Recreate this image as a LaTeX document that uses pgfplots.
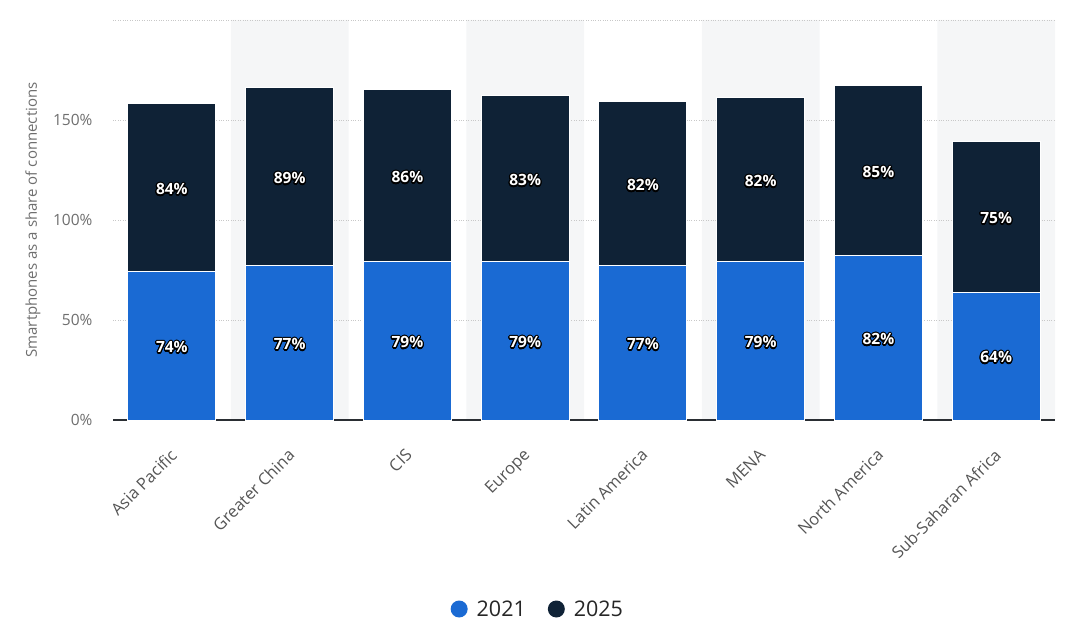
\documentclass[border=0pt]{standalone}
\usepackage{fontspec}
\setmainfont{Open Sans}
\usepackage{pgfplots}
\usepackage{pgfplotstable}
\pgfplotsset{compat=1.18}
\usepackage{contour}
\contourlength{1.1pt}
\contournumber{20}
\definecolor{blueA}{HTML}{1A6AD3}
\definecolor{darkB}{HTML}{0F2236}
\definecolor{bandgray}{HTML}{F5F6F7}
\definecolor{gridgray}{HTML}{C8C8C8}
\definecolor{ticklab}{HTML}{6E6E6E}
\definecolor{xlab}{HTML}{555555}
\definecolor{axisdark}{HTML}{2A2E33}
\pgfplotstableread{
x v
0 74
1 77
2 79
3 79
4 77
5 79
6 82
7 64
}\dataA
\pgfplotstableread{
x v
0 84
1 89
2 86
3 83
4 82
5 82
6 85
7 75
}\dataB
% label positions: middle of each segment
\pgfplotstableread{
x ym lab
0 36 74
1 37.5 77
2 38.5 79
3 38.5 79
4 37.5 77
5 38.5 79
6 40 82
7 31 64
0 115 84
1 120.5 89
2 121 86
3 119.5 83
4 117 82
5 119 82
6 123.5 85
7 100.5 75
}\labels
\begin{document}
\begin{tikzpicture}
\useasboundingbox (0,0) rectangle (1070pt,640pt);
\begin{axis}[
  at={(113pt,220pt)}, anchor=south west,
  scale only axis, width=942pt, height=400pt,
  xmin=-0.5, xmax=7.5, ymin=0, ymax=200,
  axis lines=none,
  ybar, bar width=117.75pt, bar shift=0pt,
]
\addplot[fill=bandgray, draw=none] coordinates {(1,200) (3,200) (5,200) (7,200)};
\end{axis}
\begin{axis}[
  at={(113pt,220pt)}, anchor=south west,
  scale only axis, width=942pt, height=400pt,
  xmin=-0.5, xmax=7.5, ymin=0, ymax=200,
  ybar stacked, bar width=88pt,
  axis x line*=bottom, axis y line*=left,
  x axis line style={draw=axisdark, line width=1.3pt, -},
  y axis line style={draw=none},
  major tick length=0pt,
  ytick={0,50,100,150,200}, yticklabels={0\%,50\%,100\%,150\%,},
  yticklabel style={font=\fontsize{15.5}{17}\selectfont, text=ticklab, xshift=-17pt},
  xtick={0,1,2,3,4,5,6,7},
  xticklabels={Asia Pacific,Greater China,CIS,Europe,Latin America,MENA,North America,Sub-Saharan Africa},
  xticklabel style={font=\fontsize{16.5}{18}\selectfont, text=xlab, rotate=45, anchor=north east, yshift=-14pt, xshift=-18pt},
  ymajorgrids, grid style={dotted, gridgray, line width=0.7pt},
  ylabel={Smartphones as a share of connections},
  ylabel style={at={(axis description cs:-0.085,0.5)}, anchor=center, font=\fontsize{15}{17}\selectfont, text=ticklab},
  legend style={at={(0.451,-0.4725)}, anchor=center, draw=none, fill=none, legend columns=2, font=\fontsize{21.5}{23}\selectfont\color{black!85}, /tikz/every even column/.append style={column sep=20pt}},
  legend image code/.code={\fill[#1,draw=none] (0pt,0pt) circle (8.5pt); \path (15pt,0pt);},
]
\addplot[fill=blueA, draw=white, line width=1pt] table[x=x,y=v] {\dataA};
\addlegendentry{2021}
\addplot[fill=darkB, draw=white, line width=1pt] table[x=x,y=v] {\dataB};
\addlegendentry{2025}
\end{axis}
\begin{axis}[
  at={(113pt,220pt)}, anchor=south west,
  scale only axis, width=942pt, height=400pt,
  xmin=-0.5, xmax=7.5, ymin=0, ymax=200,
  axis lines=none, clip=false,
]
\addplot[draw=none, mark=none, point meta=explicit symbolic,
  nodes near coords={\contour{black}{\textcolor{white}{\pgfplotspointmeta\%}}},
  every node near coord/.append style={font=\bfseries\fontsize{15.5}{17}\selectfont, anchor=center, inner sep=0pt}]
  table[x=x, y=ym, meta=lab] {\labels};
\end{axis}
\end{tikzpicture}
\end{document}
